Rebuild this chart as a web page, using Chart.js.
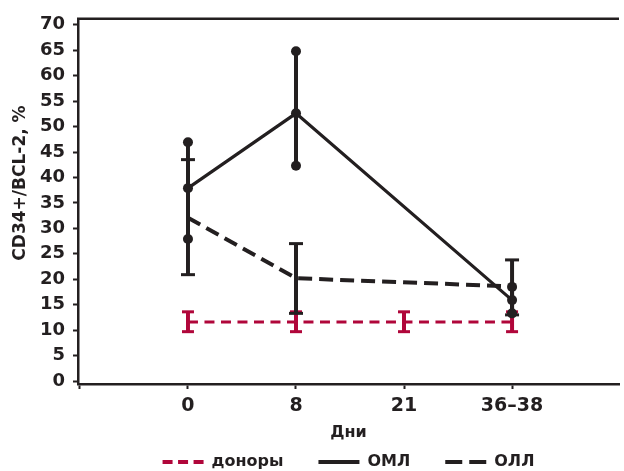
<!DOCTYPE html>
<html><head><meta charset="utf-8">
<script src="https://cdn.jsdelivr.net/npm/chart.js@4"></script>
<style>html,body{margin:0;padding:0;background:#fff}</style>
</head><body>
<canvas id="c" width="624" height="471"></canvas>
<script>
// ---- data ----
const categories = ['0', '8', '21', '36–38'];
const xTickLabels = ['', '0', '8', '21', '36–38'];
const yTicks = [0, 5, 10, 15, 20, 25, 30, 35, 40, 45, 50, 55, 60, 65, 70];
const seriesNames = ['доноры', 'ОМЛ', 'ОЛЛ'];
const donors = [11.6, 11.6, 11.6, 11.6];
const donorsLow = [9.7, 9.7, 9.7, 9.7];
const donorsHigh = [13.6, 13.6, 13.6, 13.6];
const oml = [37.9, 52.6, null, 15.9];
const omlLow = [27.9, 42.3, null, 13.3];
const omlHigh = [46.9, 64.8, null, 18.5];
const oll = [32.1, 20.2, null, 18.6];
const ollLow = [20.9, 13.3, null, 13.0];
const ollHigh = [43.5, 27.0, null, 23.8];
const xTitle = 'Дни';
const yTitle = 'CD34+/BCL-2, %';

const INK = '#231f20';
const RED = '#b0063a';
const FONT = "'DejaVu Sans', sans-serif";
const legendDash = [[10, 5.5], [], [17, 7]];

const toPts = arr => arr.map((v, i) => (v === null ? null : {x: i, y: v})).filter(p => p);

const errPlugin = {
  id: 'errbars',
  afterDatasetsDraw(chart) {
    const {ctx, scales: {x, y}, chartArea} = chart;
    ctx.save();
    // top frame line
    ctx.strokeStyle = INK; ctx.lineWidth = 2.5;
    ctx.beginPath(); ctx.moveTo(chartArea.left - 1, chartArea.top); ctx.lineTo(chartArea.right, chartArea.top); ctx.stroke();
    function bars(lo, hi, color, lw, capW, capEnds) {
      ctx.strokeStyle = color; ctx.fillStyle = color;
      lo.forEach((l, i) => {
        const h = hi[i];
        if (l === null || h === null) return;
        const px = x.getPixelForValue(i), pl = y.getPixelForValue(l), ph = y.getPixelForValue(h);
        ctx.lineWidth = lw;
        ctx.beginPath(); ctx.moveTo(px, pl); ctx.lineTo(px, ph); ctx.stroke();
        if (capEnds === 'dot') {
          [pl, ph].forEach(py => { ctx.beginPath(); ctx.arc(px, py, 5, 0, Math.PI * 2); ctx.fill(); });
        } else {
          ctx.lineWidth = 3;
          [pl, ph].forEach(py => { ctx.beginPath(); ctx.moveTo(px - capW / 2, py); ctx.lineTo(px + capW / 2, py); ctx.stroke(); });
        }
      });
    }
    bars(donorsLow, donorsHigh, RED, 4, 12, 'cap');
    bars(ollLow, ollHigh, INK, 4, 14, 'cap');
    bars(omlLow, omlHigh, INK, 4, 14, 'dot');
    // y axis title
    ctx.fillStyle = INK;
    ctx.font = "bold 17px " + FONT;
    ctx.textAlign = 'center'; ctx.textBaseline = 'middle';
    ctx.translate(21, 183); ctx.rotate(-Math.PI / 2);
    ctx.fillText(yTitle, 0, 0);
    ctx.restore();
  }
};

new Chart(document.getElementById('c'), {
  type: 'line',
  data: {
    datasets: [
      {label: seriesNames[0], data: toPts(donors), borderColor: RED, backgroundColor: RED, borderWidth: 3.2,
       borderDash: [10, 6.5], pointRadius: 0, order: 3},
      {label: seriesNames[1], data: toPts(oml), borderColor: INK, backgroundColor: INK, borderWidth: 3.2,
       pointRadius: 5, pointBackgroundColor: INK, pointBorderWidth: 0, spanGaps: true, order: 1},
      {label: seriesNames[2], data: toPts(oll), borderColor: INK, backgroundColor: INK, borderWidth: 4,
       borderDash: [14, 7], pointRadius: 0, spanGaps: true, order: 2}
    ]
  },
  options: {
    responsive: false,
    animation: false,
    layout: {padding: {left: 0, right: 0, top: 15, bottom: -9}},
    plugins: {
      tooltip: {enabled: false},
      legend: {
        position: 'bottom',
        fullSize: false,
        labels: {
          color: INK, font: {family: FONT, size: 16, weight: 'bold'}, padding: 35,
          usePointStyle: true, pointStyle: 'line', pointStyleWidth: 41, boxWidth: 41,
          sort: (a, b) => a.datasetIndex - b.datasetIndex,
          generateLabels: chart => {
            const items = Chart.defaults.plugins.legend.labels.generateLabels(chart);
            items.forEach(it => {
              const ds = chart.data.datasets[it.datasetIndex];
              it.pointStyle = 'line';
              it.strokeStyle = ds.borderColor;
              it.fillStyle = ds.borderColor;
              it.lineWidth = 4;
              it.lineDash = legendDash[it.datasetIndex];
              it.fontColor = INK;
            });
            return items;
          }
        }
      }
    },
    scales: {
      x: {
        type: 'linear', min: -1.018, max: 3.99,
        afterBuildTicks: s => { s.ticks = xTickLabels.map((_, i) => ({value: i - 1})); },
        afterFit: s => { s.height = 35; },
        ticks: {color: INK, font: {family: FONT, size: 19, weight: 'bold'}, padding: 6, maxRotation: 0,
                callback: (v, i) => xTickLabels[i]},
        grid: {drawOnChartArea: false, tickLength: 5, tickWidth: 2, tickColor: INK},
        border: {color: INK, width: 2.5},
        title: {display: true, text: xTitle, color: INK, font: {family: FONT, size: 16, weight: 'bold'}, padding: {top: 0, bottom: -23}}
      },
      y: {
        min: -0.58, max: 71.17,
        afterBuildTicks: s => { s.ticks = yTicks.map(v => ({value: v})); },
        afterFit: s => { s.width = 78; },
        ticks: {color: INK, font: {family: FONT, size: 18, weight: 'bold'}, padding: 8},
        grid: {drawOnChartArea: false, tickLength: 5, tickWidth: 2, tickColor: INK},
        border: {color: INK, width: 2.5}
      }
    }
  },
  plugins: [errPlugin]
});
</script>
</body></html>
